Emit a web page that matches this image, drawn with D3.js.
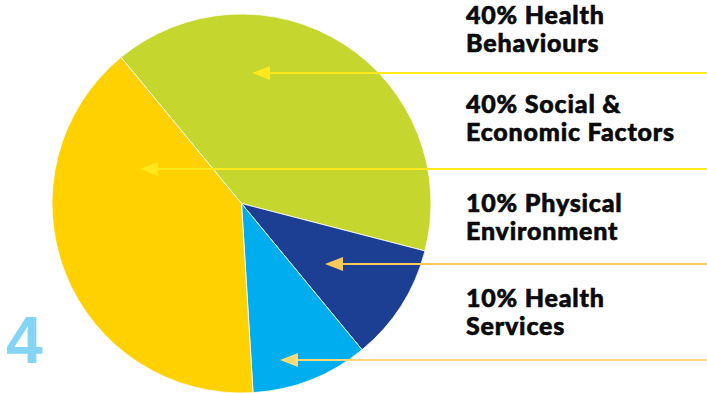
<!DOCTYPE html>
<html>
<head>
<meta charset="utf-8">
<script src="https://cdn.jsdelivr.net/npm/d3@7"></script>
<style>
  html, body { margin: 0; padding: 0; background: #ffffff; }
  svg { display: block; }
</style>
</head>
<body>
<svg id="chart" width="707" height="393"></svg>
<script>
// ---- data ----
const categories = ["Health Behaviours", "Physical Environment", "Health Services", "Social & Economic Factors"];
const shares = [40, 10, 10, 40];
const sliceColors = ["#c5d72f", "#1d3f93", "#00aeef", "#ffd100"];

// legend labels (in display order top to bottom)
const labelLines = [
  ["40% Health", "Behaviours"],
  ["40% Social &", "Economic Factors"],
  ["10% Physical", "Environment"],
  ["10% Health", "Services"]
];
const pageNumber = "4";

// ---- layout ----
const W = 707, H = 393;
const cx = 241.5, cy = 203.5, R = 189.5;
const startDeg = -39.5;

const svg = d3.select("#chart");

const pie = d3.pie().sort(null).value(d => d)
  .startAngle(startDeg * Math.PI / 180)
  .endAngle(startDeg * Math.PI / 180 + 2 * Math.PI);
const arc = d3.arc().innerRadius(0).outerRadius(R);

const g = svg.append("g").attr("transform", `translate(${cx},${cy})`);
g.selectAll("path")
  .data(pie(shares))
  .join("path")
  .attr("d", arc)
  .attr("fill", (d, i) => sliceColors[i])
  .attr("stroke", "#ffffff")
  .attr("stroke-width", 0.8);

// arrows: one per label row, pointing into its slice
const arrowRows = [
  { y: 73,  tipX: 252, color: "#ffe81c" },
  { y: 169, tipX: 140, color: "#ffe81c" },
  { y: 264, tipX: 325, color: "#fcc95a" },
  { y: 360, tipX: 280, color: "#fdd977" }
];
const headLen = 18, headHalf = 7;
arrowRows.forEach(a => {
  svg.append("line")
    .attr("x1", a.tipX + headLen - 1).attr("x2", W)
    .attr("y1", a.y).attr("y2", a.y)
    .attr("stroke", a.color).attr("stroke-width", 2.2);
  svg.append("path")
    .attr("d", `M${a.tipX},${a.y} L${a.tipX + headLen},${a.y - headHalf} L${a.tipX + headLen},${a.y + headHalf} Z`)
    .attr("fill", a.color);
});

// labels
const baselines = [[23.5, 51.5], [113, 141], [212, 240], [307, 335]];
labelLines.forEach((lines, i) => {
  lines.forEach((t, j) => {
    svg.append("text")
      .attr("x", 466)
      .attr("y", baselines[i][j])
      .attr("font-family", "Lato, 'Open Sans', sans-serif")
      .attr("font-weight", 900)
      .attr("font-size", 25)
      .attr("letter-spacing", 0.8)
      .attr("fill", "#0a0a0a")
      .attr("stroke", "#0a0a0a")
      .attr("stroke-width", 0.6)
      .text(t);
  });
});

// page number
svg.append("text")
  .attr("x", 6).attr("y", 363)
  .attr("font-family", "'Liberation Sans', Arial, sans-serif")
  .attr("font-weight", 700)
  .attr("font-size", 66)
  .attr("fill", "#84d4f6")
  .text(pageNumber);
</script>
</body>
</html>
